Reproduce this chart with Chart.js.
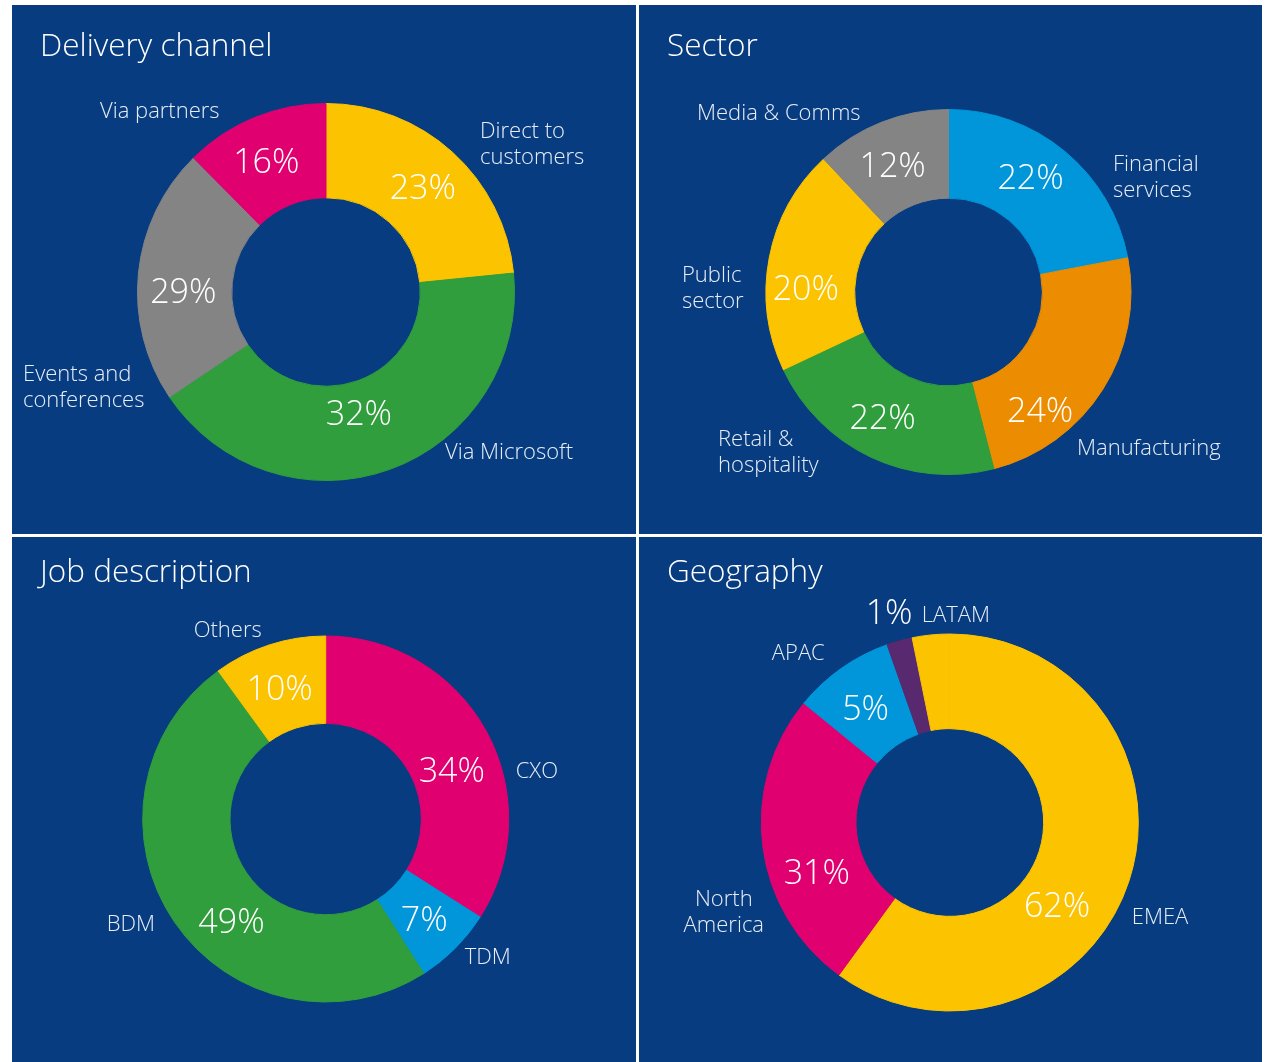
<!DOCTYPE html>
<html>
<head>
<meta charset="utf-8">
<title>Survey respondents</title>
<script src="https://cdn.jsdelivr.net/npm/chart.js@4.4.1/dist/chart.umd.min.js"></script>
<style>
  html, body { margin: 0; padding: 0; background: #ffffff; }
  body { width: 1269px; height: 1062px; position: relative; overflow: hidden; }
  .quad { position: absolute; background: #073c80; }
  .quad canvas { display: block; }
</style>
</head>
<body>
<div class="quad" style="left:12px;top:5px;width:624px;height:529px"><canvas id="delivery" width="624" height="529"></canvas></div>
<div class="quad" style="left:639px;top:5px;width:623px;height:529px"><canvas id="sector" width="623" height="529"></canvas></div>
<div class="quad" style="left:12px;top:537px;width:624px;height:525px"><canvas id="job" width="624" height="525"></canvas></div>
<div class="quad" style="left:639px;top:537px;width:623px;height:525px"><canvas id="geo" width="623" height="525"></canvas></div>
<script>
// --- data (shares are the arc sizes as drawn, pct are the printed labels) ---
const deliveryLabels = [['Direct to', 'customers'], 'Via Microsoft', ['Events and', 'conferences'], 'Via partners'];
const deliveryShares = [23.4, 42.2, 22.0, 12.4];
const deliveryPct = ['23%', '32%', '29%', '16%'];

const sectorLabels = [['Financial', 'services'], 'Manufacturing', ['Retail &', 'hospitality'], ['Public', 'sector'], 'Media & Comms'];
const sectorShares = [22, 24, 22, 20, 12];
const sectorPct = ['22%', '24%', '22%', '20%', '12%'];

const jobLabels = ['CXO', 'TDM', 'BDM', 'Others'];
const jobShares = [34, 7, 49, 10];
const jobPct = ['34%', '7%', '49%', '10%'];

const geoLabels = ['EMEA', ['North', 'America'], 'APAC', 'LATAM', ''];
const geoShares = [60.0, 25.9, 8.7, 2.2, 3.2];
const geoPct = ['62%', '31%', '5%', '1%', ''];

// --- styling / layout ---
const YELLOW = '#fbc300', GREEN = '#309e3d', GREY = '#848484', PINK = '#e1006f',
      BLUE = '#0096d9', ORANGE = '#ec8c00', PURPLE = '#58296f';

// label offsets are relative to the ring centre
const charts = [
  {
    id: 'delivery', title: 'Delivery channel', titleY: 42,
    labels: deliveryLabels, values: deliveryShares, pct: deliveryPct,
    colors: [YELLOW, GREEN, GREY, PINK],
    cx: 314, cy: 287, r: 189, cutout: '50%',
    pctNudge: [[2, 0], [-15, -12], [-2, 14], [-6, 0]],
    namePos: [[154, -162, 'left'], [119, 159, 'left'], [-303, 81, 'left'], [-226, -182, 'left']]
  },
  {
    id: 'sector', title: 'Sector', titleY: 42,
    labels: sectorLabels, values: sectorShares, pct: sectorPct,
    colors: [BLUE, ORANGE, GREEN, YELLOW, GREY],
    cx: 309.5, cy: 287, r: 183, cutout: '51.4%',
    pctNudge: [[-6, -8], [-25, 44], [-7, 0], [-7, 22], [-5, 2]],
    namePos: [[164.5, -129, 'left'], [128.5, 155, 'left'], [-230.5, 146, 'left'], [-266.5, -18, 'left'], [-251.5, -180, 'left']]
  },
  {
    id: 'job', title: 'Job description', titleY: 36,
    labels: jobLabels, values: jobShares, pct: jobPct,
    colors: [PINK, BLUE, GREEN, YELLOW],
    cx: 313.7, cy: 282, r: 183.5, cutout: '52.3%',
    pctNudge: [[4, 18], [0, 2], [21, 24], [-3, 2]],
    namePos: [[190, -49, 'left'], [139, 137, 'left'], [-219, 104, 'left'], [-132, -190, 'left']]
  },
  {
    id: 'geo', title: 'Geography', titleY: 36,
    labels: geoLabels, values: geoShares, pct: geoPct,
    colors: [YELLOW, PINK, BLUE, PURPLE, YELLOW],
    cx: 310.8, cy: 285.5, r: 189, cutout: '49.8%',
    pctNudge: [[-27, 39], [7, 32], [-3, 1], [-23, -74], [0, 0]],
    namePos: [[182, 93.5, 'left'], [-226, 75.5, 'center'], [-178, -170.5, 'left'], [-28, -208.5, 'left'], null]
  }
];

const FONT = '"Open Sans", "Segoe UI", Lato, sans-serif';
const TEXT_DY = 2; // middle baseline sits a touch high in Open Sans

const ringText = {
  id: 'ringText',
  afterDraw(chart, args, opts) {
    const ctx = chart.ctx;
    const meta = chart.getDatasetMeta(0);
    const cx = meta.data[0].x, cy = meta.data[0].y + TEXT_DY;
    ctx.save();
    ctx.textBaseline = 'middle';

    ctx.fillStyle = '#ffffff';
    ctx.textAlign = 'left';
    ctx.font = '300 31.5px ' + FONT;
    ctx.fillText(opts.title, 28, opts.titleY);

    ctx.font = '300 34px ' + FONT;
    ctx.textAlign = 'center';
    meta.data.forEach((arc, i) => {
      if (!opts.pct[i]) return;
      const p = arc.getCenterPoint();
      const n = opts.pctNudge[i];
      ctx.fillText(opts.pct[i], p.x + n[0], p.y + n[1] + TEXT_DY);
    });

    ctx.fillStyle = '#e8eef7';
    ctx.font = '300 22px ' + FONT;
    chart.data.labels.forEach((lab, i) => {
      const pos = opts.namePos[i];
      if (!pos) return;
      const lines = Array.isArray(lab) ? lab : [lab];
      ctx.textAlign = pos[2];
      lines.forEach((ln, k) => ctx.fillText(ln, cx + pos[0], cy + pos[1] + k * 26));
    });
    ctx.restore();
  }
};

charts.forEach(c => {
  const canvas = document.getElementById(c.id);
  const w = canvas.width, h = canvas.height;
  new Chart(canvas.getContext('2d'), {
    type: 'doughnut',
    data: {
      labels: c.labels,
      datasets: [{
        data: c.values,
        backgroundColor: c.colors,
        borderColor: c.colors,
        borderWidth: 1,
        hoverOffset: 0
      }]
    },
    options: {
      responsive: false,
      animation: false,
      cutout: c.cutout,
      layout: {
        padding: {
          left: c.cx - c.r, top: c.cy - c.r,
          right: w - c.cx - c.r, bottom: h - c.cy - c.r
        }
      },
      plugins: {
        legend: { display: false },
        tooltip: { enabled: false },
        ringText: {
          title: c.title, titleY: c.titleY, pct: c.pct,
          pctNudge: c.pctNudge, namePos: c.namePos
        }
      }
    },
    plugins: [ringText]
  });
});
</script>
</body>
</html>
